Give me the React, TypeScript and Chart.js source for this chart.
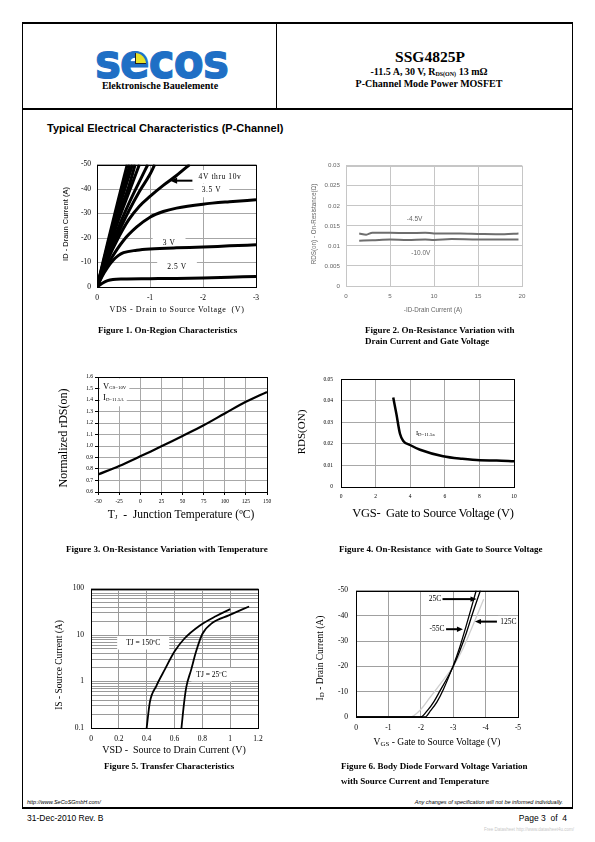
import React, { useEffect, useRef } from 'react';
import { Chart, registerables } from 'chart.js';

Chart.register(...registerables);

const SERIF = '"Liberation Serif", "Times New Roman", serif';
const SANS = '"Liberation Sans", Arial, sans-serif';

type Pt = [number, number];

// ---------------- Figure 1: On-region characteristics (VDS [V], ID [A]) ----------------
const f1VdsTicks = [0, -1, -2, -3];
const f1VdsLabels = ['0', '-1', '-2', '-3'];
const f1IdTicks = [0, -10, -20, -30, -40, -50];
const f1IdLabels = ['0', '-10', '-20', '-30', '-40', '-50'];
const f1Vgs10: Pt[] = [[0, 0], [-0.2, -18], [-0.4, -35.5], [-0.57, -50]];
const f1Vgs9: Pt[] = [[0, 0], [-0.2, -17], [-0.4, -33], [-0.62, -50]];
const f1Vgs8: Pt[] = [[0, 0], [-0.2, -16], [-0.4, -31], [-0.67, -50]];
const f1Vgs7: Pt[] = [[0, 0], [-0.2, -15], [-0.4, -29], [-0.6, -41], [-0.72, -50]];
const f1Vgs6: Pt[] = [[0, 0], [-0.2, -14], [-0.4, -27], [-0.6, -38.5], [-0.8, -50]];
const f1Vgs5: Pt[] = [[0, 0], [-0.2, -12.5], [-0.4, -24], [-0.6, -34], [-0.8, -43], [-0.96, -50]];
const f1Vgs45: Pt[] = [[0, 0], [-0.2, -11.5], [-0.4, -22], [-0.6, -31], [-0.8, -39], [-1.0, -46], [-1.09, -50]];
const f1Vgs4: Pt[] = [[0, 0], [-0.2, -11], [-0.4, -20], [-0.6, -27.5], [-0.8, -33], [-1.0, -37], [-1.25, -41.5], [-1.5, -45.5], [-1.75, -50]];
const f1Vgs35: Pt[] = [[0, 0], [-0.1, -5], [-0.25, -11], [-0.5, -19], [-0.75, -24.5], [-1.0, -28.5], [-1.25, -30.8], [-1.5, -32.2], [-2.0, -33.8], [-2.5, -34.8], [-3.0, -35.6]];
const f1Vgs3: Pt[] = [[0, 0], [-0.1, -4.5], [-0.2, -8], [-0.3, -10.8], [-0.4, -12.8], [-0.5, -14], [-0.75, -15], [-1.0, -15.5], [-1.5, -16], [-2.0, -16.3], [-2.5, -16.8], [-3.0, -17.2]];
const f1Vgs25: Pt[] = [[0, 0], [-0.1, -1.5], [-0.2, -2.6], [-0.3, -3.1], [-0.5, -3.3], [-1.0, -3.4], [-1.5, -3.5], [-2.0, -3.7], [-2.5, -4.0], [-3.0, -4.3]];

// ---------------- Figure 2: RDS(on) vs drain current ----------------
const f2IdTicks = [0, 5, 10, 15, 20];
const f2IdLabels = ['0', '5', '10', '15', '20'];
const f2RdsTicks = [0, 0.005, 0.01, 0.015, 0.02, 0.025, 0.03];
const f2RdsLabels = ['0', '0.005', '0.01', '0.015', '0.02', '0.025', '0.03'];
const f2Vgs45: Pt[] = [[1.5, 0.0131], [2.3, 0.0128], [3, 0.0133], [5, 0.0133], [7, 0.0132], [9, 0.0133], [10, 0.0131], [13, 0.0131], [15, 0.013], [18, 0.0129], [19.6, 0.0131]];
const f2Vgs10: Pt[] = [[1.5, 0.0113], [3, 0.0114], [5, 0.0116], [7, 0.0115], [9, 0.0116], [10, 0.0115], [12, 0.0117], [15, 0.0116], [18, 0.0116], [19.6, 0.0116]];

// ---------------- Figure 3: normalized RDS(on) vs temperature ----------------
const f3TempTicks = [-50, -25, 0, 25, 50, 75, 100, 125, 150];
const f3TempLabels = ['-50', '-25', '0', '25', '50', '75', '100', '125', '150'];
const f3NormTicks = [0.6, 0.7, 0.8, 0.9, 1.0, 1.1, 1.2, 1.3, 1.4, 1.5, 1.6];
const f3NormLabels = ['0.6', '0.7', '0.8', '0.9', '1.0', '1.1', '1.2', '1.3', '1.4', '1.5', '1.6'];
const f3Temp = [-50, -25, 0, 25, 50, 75, 100, 125, 150];
const f3Rds = [0.752, 0.826, 0.91, 0.997, 1.087, 1.18, 1.283, 1.385, 1.47];

// ---------------- Figure 4: RDS(on) vs VGS ----------------
const f4VgsTicks = [0, 2, 4, 6, 8, 10];
const f4VgsLabels = ['0', '2', '4', '6', '8', '10'];
const f4RdsTicks = [0, 0.01, 0.02, 0.03, 0.04, 0.05];
const f4RdsLabels = ['0', '0.01', '0.02', '0.03', '0.04', '0.05'];
const f4Vgs = [3.02, 3.2, 3.41, 3.6, 3.99, 4.57, 5.9, 7, 8.03, 9, 10];
const f4Rds = [0.0415, 0.034, 0.0247, 0.0214, 0.0195, 0.0173, 0.0143, 0.0131, 0.0124, 0.0123, 0.0119];

// ---------------- Figure 5: source current vs VSD (log) ----------------
const f5VsdTicks = [0, 0.2, 0.4, 0.6, 0.8, 1, 1.2];
const f5VsdLabels = ['0', '0.2', '0.4', '0.6', '0.8', '1', '1.2'];
const f5IsGrid = [0.1, 0.2, 0.3, 0.4, 0.5, 0.6, 0.7, 0.8, 0.9, 1, 2, 3, 4, 5, 6, 7, 8, 9, 10, 20, 30, 40, 50, 60, 70, 80, 90, 100];
const f5IsMajor = [0.1, 1, 10, 100];
const f5Vsd150 = [0.4, 0.423, 0.47, 0.53, 0.6, 0.67, 0.78, 0.9, 1.0];
const f5Is150 = [0.1, 0.36, 0.81, 1.8, 4.4, 8.3, 15.8, 25.6, 36];
const f5Vsd25 = [0.65, 0.668, 0.684, 0.72, 0.755, 0.8, 0.875, 0.99, 1.136];
const f5Is25 = [0.1, 0.33, 0.74, 1.8, 4.4, 10.5, 18.5, 26.5, 41];

// ---------------- Figure 6: ID vs VGS at temperatures ----------------
const f6VgsTicks = [0, -1, -2, -3, -4, -5];
const f6VgsLabels = ['0', '-1', '-2', '-3', '-4', '-5'];
const f6IdTicks = [0, -10, -20, -30, -40, -50];
const f6IdLabels = ['0', '-10', '-20', '-30', '-40', '-50'];
const f6TM55: Pt[] = [[0, 0], [-2.13, 0], [-2.3, -2.5], [-2.5, -6], [-2.7, -11], [-3.0, -20.3], [-3.2, -27.5], [-3.4, -36], [-3.6, -45], [-3.71, -50]];
const f6T25: Pt[] = [[0, 0], [-2.0, 0], [-2.2, -2.5], [-2.4, -6], [-2.6, -10.5], [-2.8, -15], [-3.0, -20], [-3.2, -26], [-3.4, -33], [-3.6, -41], [-3.84, -50]];
const f6T125: Pt[] = [[0, 0], [-1.67, 0], [-2.0, -3], [-2.3, -8], [-2.6, -13], [-3.0, -20], [-3.3, -27], [-3.6, -36], [-3.94, -46.5]];

// ---------------- helpers ----------------
const pxy = (pts: Pt[]) => pts.map(([x, y]) => ({ x, y }));
const zxy = (xs: number[], ys: number[]) => xs.map((x, i) => ({ x, y: ys[i] }));

type Geo = { left: number; top: number; width: number; height: number; yW: number; xH: number; padTop: number; padRight: number };
function geo(l: number, t: number, r: number, b: number, yW: number, xH: number): Geo {
  const padTop = 8;
  const padRight = 12;
  return { left: l - yW, top: t - padTop, width: yW + (r - l) + padRight, height: padTop + (b - t) + xH, yW, xH, padTop, padRight };
}

type AxisSpec = {
  min: number; max: number; ticks: number[]; labels: string[]; reverse?: boolean; log?: boolean;
  font: string; size: number; color?: string; pad: number; grid: string; tickLen?: number; tickColor?: string; fit: number;
};
function axis(a: AxisSpec, horizontal: boolean) {
  return {
    type: a.log ? 'logarithmic' : 'linear',
    min: a.min,
    max: a.max,
    reverse: !!a.reverse,
    afterBuildTicks: (s: any) => { s.ticks = a.ticks.map((v) => ({ value: v })); },
    afterFit: (s: any) => { if (horizontal) s.height = a.fit; else s.width = a.fit; },
    ticks: {
      autoSkip: false, maxRotation: 0, minRotation: 0, padding: a.pad, color: a.color || '#000',
      font: { family: a.font, size: a.size },
      callback: (_v: any, i: number) => a.labels[i],
    },
    grid: { color: a.grid, lineWidth: 1, drawTicks: !!a.tickLen, tickLength: a.tickLen || 0, tickColor: a.tickColor || a.grid },
    border: { display: false },
  };
}

function line(data: { x: number; y: number }[], color: string, width: number) {
  return { data, borderColor: color, borderWidth: width, pointRadius: 0, fill: false, cubicInterpolationMode: 'monotone' };
}

function boxPlugin(color: string) {
  return {
    id: 'box',
    afterDatasetsDraw(chart: any) {
      const { left, top, right, bottom } = chart.chartArea;
      const ctx = chart.ctx;
      ctx.save();
      ctx.strokeStyle = color;
      ctx.lineWidth = 1;
      ctx.strokeRect(Math.round(left) + 0.5, Math.round(top) + 0.5, Math.round(right) - Math.round(left), Math.round(bottom) - Math.round(top));
      ctx.restore();
    },
  };
}

type Seg = { t: string; size: number; dy?: number; ls?: number };
type Note = { x: number; y: number; segs: Seg[]; align?: 'left' | 'center'; bg?: boolean; padX?: number; padY?: number; color?: string };
type Arrow = { x1: number; y1: number; x2: number; y2: number; w: number; head: number; color?: string };

function notesPlugin(id: string, notes: Note[], arrows: Arrow[], family: string) {
  const setFont = (ctx: any, s: Seg) => {
    ctx.font = `${s.size}px ${family}`;
    ctx.letterSpacing = `${s.ls || 0}px`;
  };
  const geom = (chart: any, n: Note) => {
    const ctx = chart.ctx;
    let w = 0;
    for (const s of n.segs) { setFont(ctx, s); w += ctx.measureText(s.t).width; }
    const px = chart.scales.x.getPixelForValue(n.x);
    const py = chart.scales.y.getPixelForValue(n.y);
    const left = n.align === 'left' ? px : px - w / 2;
    const h = Math.max(...n.segs.map((s) => s.size));
    return { left, w, py, h };
  };
  return {
    id,
    beforeDatasetsDraw(chart: any) {
      const ctx = chart.ctx;
      ctx.save();
      for (const n of notes) {
        if (!n.bg) continue;
        const g = geom(chart, n);
        const px = n.padX ?? 3;
        const py = n.padY ?? 2;
        ctx.fillStyle = '#fff';
        ctx.fillRect(g.left - px, g.py - g.h / 2 - py, g.w + 2 * px, g.h + 2 * py);
      }
      ctx.letterSpacing = '0px';
      ctx.restore();
    },
    afterDatasetsDraw(chart: any) {
      const ctx = chart.ctx;
      const xs = chart.scales.x;
      const ys = chart.scales.y;
      ctx.save();
      for (const a of arrows) {
        const x1 = xs.getPixelForValue(a.x1), y1 = ys.getPixelForValue(a.y1);
        const x2 = xs.getPixelForValue(a.x2), y2 = ys.getPixelForValue(a.y2);
        const ang = Math.atan2(y2 - y1, x2 - x1);
        const c = Math.cos(ang), s = Math.sin(ang);
        ctx.strokeStyle = a.color || '#000';
        ctx.fillStyle = a.color || '#000';
        ctx.lineWidth = a.w;
        ctx.beginPath();
        ctx.moveTo(x1, y1);
        ctx.lineTo(x2 - c * a.head * 0.8, y2 - s * a.head * 0.8);
        ctx.stroke();
        const hw = a.head * 0.45;
        ctx.beginPath();
        ctx.moveTo(x2, y2);
        ctx.lineTo(x2 - a.head * c + hw * s, y2 - a.head * s - hw * c);
        ctx.lineTo(x2 - a.head * c - hw * s, y2 - a.head * s + hw * c);
        ctx.closePath();
        ctx.fill();
      }
      ctx.textBaseline = 'middle';
      ctx.textAlign = 'left';
      for (const n of notes) {
        const g = geom(chart, n);
        let x = g.left;
        ctx.fillStyle = n.color || '#000';
        for (const s of n.segs) {
          setFont(ctx, s);
          ctx.fillText(s.t, x, g.py + (s.dy || 0));
          x += ctx.measureText(s.t).width;
        }
      }
      ctx.letterSpacing = '0px';
      ctx.restore();
    },
  };
}

function cfg(g: Geo, datasets: any[], x: any, y: any, plugins: any[]) {
  return {
    type: 'line',
    data: { datasets },
    options: {
      responsive: false,
      animation: false,
      events: [],
      devicePixelRatio: 1,
      layout: { padding: { top: g.padTop, right: g.padRight, left: 0, bottom: 0 } },
      plugins: { legend: { display: false }, tooltip: { enabled: false }, title: { display: false } },
      scales: { x, y },
    },
    plugins,
  };
}

// ---------------- geometry (page pixels) ----------------
const G1 = geo(97, 162, 256, 287, 40, 20);
const G2 = geo(346, 164, 522, 286, 40, 18);
const G3 = geo(98, 377, 267, 492, 30, 18);
const G4 = geo(341, 376, 514, 487, 30, 18);
const G5 = geo(91, 585, 258, 728, 32, 18);
const G6 = geo(356, 586, 518, 717, 32, 18);

function fig1() {
  const ds = [f1Vgs10, f1Vgs9, f1Vgs8, f1Vgs7, f1Vgs6, f1Vgs5, f1Vgs45, f1Vgs4, f1Vgs35, f1Vgs3, f1Vgs25].map((p) => line(pxy(p), '#000', 3));
  const notes: Note[] = [
    { x: -2.32, y: -45, segs: [{ t: '4V thru 10v', size: 7.5, ls: 0.6 }], bg: true, padX: 6, padY: 3 },
    { x: -2.16, y: -39.4, segs: [{ t: '3.5 V', size: 7.5, ls: 0.6 }], bg: true, padX: 8, padY: 3 },
    { x: -1.36, y: -18, segs: [{ t: '3 V', size: 7.5, ls: 0.6 }], bg: true, padX: 10, padY: 2 },
    { x: -1.51, y: -8.2, segs: [{ t: '2.5 V', size: 7.5, ls: 0.6 }], bg: true, padX: 10, padY: 3 },
  ];
  const arrows: Arrow[] = [{ x1: -1.8, y1: -43.4, x2: -1.38, y2: -43.4, w: 2, head: 7 }];
  return cfg(
    G1, ds,
    axis({ min: -3, max: 0, reverse: true, ticks: f1VdsTicks, labels: f1VdsLabels, font: SERIF, size: 7.5, pad: 6.5, grid: '#a6a6a6', fit: G1.xH }, true),
    axis({ min: -50, max: 0, reverse: true, ticks: f1IdTicks, labels: f1IdLabels, font: SERIF, size: 7.5, pad: 6, grid: '#a6a6a6', fit: G1.yW }, false),
    [boxPlugin('#000'), notesPlugin('n1', notes, arrows, SERIF)],
  );
}

function fig2() {
  const ds = [line(pxy(f2Vgs45), '#6e6e6e', 2), line(pxy(f2Vgs10), '#6e6e6e', 2)];
  const notes: Note[] = [
    { x: 7.8, y: 0.0166, segs: [{ t: '-4.5V', size: 6.5 }], color: '#666' },
    { x: 8.5, y: 0.0083, segs: [{ t: '-10.0V', size: 6.5 }], color: '#666' },
  ];
  return cfg(
    G2, ds,
    axis({ min: 0, max: 20, ticks: f2IdTicks, labels: f2IdLabels, font: SANS, size: 6.2, color: '#666', pad: 7, grid: '#c6c6c6', fit: G2.xH }, true),
    axis({ min: 0, max: 0.03, ticks: f2RdsTicks, labels: f2RdsLabels, font: SANS, size: 6.2, color: '#666', pad: 6, grid: '#c6c6c6', fit: G2.yW }, false),
    [boxPlugin('#c6c6c6'), notesPlugin('n2', notes, [], SANS)],
  );
}

function fig3() {
  const ds = [{ ...line(zxy(f3Temp, f3Rds), '#000', 2.2), cubicInterpolationMode: 'default', tension: 0.35 }];
  const notes: Note[] = [
    { x: -44, y: 1.516, align: 'left', segs: [{ t: 'V', size: 8.5 }, { t: 'GS=10V', size: 4.8, dy: 1.5 }], bg: true, padX: 3, padY: 4 },
    { x: -44, y: 1.417, align: 'left', segs: [{ t: 'I', size: 8.5 }, { t: 'D=11.5A', size: 4.8, dy: 1.5 }], bg: true, padX: 3, padY: 4 },
  ];
  return cfg(
    G3, ds,
    axis({ min: -50, max: 150, ticks: f3TempTicks, labels: f3TempLabels, font: SERIF, size: 5.5, pad: 3.5, grid: '#a8a8a8', tickLen: 3, tickColor: '#000', fit: G3.xH }, true),
    axis({ min: 0.6, max: 1.6, ticks: f3NormTicks, labels: f3NormLabels, font: SERIF, size: 5.5, pad: 2, grid: '#a8a8a8', tickLen: 3, tickColor: '#000', fit: G3.yW }, false),
    [boxPlugin('#000'), notesPlugin('n3', notes, [], SERIF)],
  );
}

function fig4() {
  const ds = [line(zxy(f4Vgs, f4Rds), '#000', 2.5)];
  const notes: Note[] = [
    { x: 4.33, y: 0.0247, align: 'left', segs: [{ t: 'I', size: 6.5 }, { t: 'D=11.5a', size: 4.8, dy: 0.5 }] },
  ];
  return cfg(
    G4, ds,
    axis({ min: 0, max: 10, ticks: f4VgsTicks, labels: f4VgsLabels, font: SERIF, size: 5.5, pad: 6.5, grid: '#a8a8a8', fit: G4.xH }, true),
    axis({ min: 0, max: 0.05, ticks: f4RdsTicks, labels: f4RdsLabels, font: SERIF, size: 5.5, pad: 8, grid: '#a8a8a8', fit: G4.yW }, false),
    [boxPlugin('#000'), notesPlugin('n4', notes, [], SERIF)],
  );
}

function fig5() {
  const ds = [line(zxy(f5Vsd150, f5Is150), '#000', 1.8), line(zxy(f5Vsd25, f5Is25), '#000', 1.8)];
  const notes: Note[] = [
    { x: 0.375, y: 6.8, segs: [{ t: 'TJ = 150ºC', size: 7.5 }], bg: true, padX: 9, padY: 3 },
    { x: 0.866, y: 1.4, segs: [{ t: 'TJ = 25ºC', size: 7.5 }], bg: true, padX: 5, padY: 3 },
  ];
  const isLabels = f5IsGrid.map((v) => (f5IsMajor.includes(v) ? String(v) : ''));
  return cfg(
    G5, ds,
    axis({ min: 0, max: 1.2, ticks: f5VsdTicks, labels: f5VsdLabels, font: SERIF, size: 7.5, pad: 7, grid: '#9a9a9a', fit: G5.xH }, true),
    axis({ min: 0.1, max: 100, log: true, ticks: f5IsGrid, labels: isLabels, font: SERIF, size: 7.5, pad: 7, grid: '#9a9a9a', fit: G5.yW }, false),
    [boxPlugin('#000'), notesPlugin('n5', notes, [], SERIF)],
  );
}

function fig6() {
  const ds = [line(pxy(f6TM55), '#000', 1.3), line(pxy(f6T25), '#000', 1.3), line(pxy(f6T125), '#cfcfcf', 1.3)];
  const notes: Note[] = [
    { x: -2.44, y: -46.6, segs: [{ t: '25C', size: 7.5 }], bg: true, padX: 2, padY: 2 },
    { x: -2.5, y: -34.7, segs: [{ t: '-55C', size: 7.5 }], bg: true, padX: 2, padY: 2 },
    { x: -4.7, y: -37.7, segs: [{ t: '125C', size: 7.5 }], bg: true, padX: 2, padY: 2 },
  ];
  const arrows: Arrow[] = [
    { x1: -2.67, y1: -46.6, x2: -3.72, y2: -46.6, w: 2, head: 6 },
    { x1: -2.78, y1: -34.7, x2: -3.3, y2: -34.7, w: 2, head: 6 },
    { x1: -4.35, y1: -37.7, x2: -3.67, y2: -37.7, w: 2, head: 6 },
  ];
  return cfg(
    G6, ds,
    axis({ min: -5, max: 0, reverse: true, ticks: f6VgsTicks, labels: f6VgsLabels, font: SERIF, size: 7.5, pad: 6.8, grid: '#a0a0a0', fit: G6.xH }, true),
    axis({ min: -50, max: 0, reverse: true, ticks: f6IdTicks, labels: f6IdLabels, font: SERIF, size: 7.5, pad: 8, grid: '#a0a0a0', fit: G6.yW }, false),
    [boxPlugin('#000'), notesPlugin('n6', notes, arrows, SERIF)],
  );
}

function ChartBox({ g, make }: { g: Geo; make: () => any }) {
  const ref = useRef<HTMLCanvasElement>(null);
  useEffect(() => {
    const chart = new Chart(ref.current as HTMLCanvasElement, make());
    return () => chart.destroy();
  }, []);
  return (
    <canvas
      ref={ref}
      width={g.width}
      height={g.height}
      style={{ position: 'absolute', left: g.left, top: g.top, width: g.width, height: g.height }}
    />
  );
}

type TP = {
  x: number; y: number; a?: 'l' | 'c' | 'r'; rot?: boolean; f: string; s: number; b?: boolean; i?: boolean;
  c?: string; ls?: number; children: React.ReactNode;
};
function T({ x, y, a = 'l', rot, f, s, b, i, c, ls, children }: TP) {
  const tx = rot
    ? 'translate(-50%,-50%) rotate(-90deg)'
    : a === 'c' ? 'translate(-50%,-50%)' : a === 'r' ? 'translate(-100%,-50%)' : 'translateY(-50%)';
  return (
    <div
      style={{
        position: 'absolute', left: x, top: y, transform: tx, fontFamily: f, fontSize: s,
        fontWeight: b ? 'bold' : 'normal', fontStyle: i ? 'italic' : 'normal', color: c || '#000',
        letterSpacing: ls || 0, whiteSpace: 'pre', lineHeight: 1,
      }}
    >
      {children}
    </div>
  );
}

const Sub = ({ s, children }: { s: number; children: React.ReactNode }) => (
  <span style={{ fontSize: s, verticalAlign: '-0.2em' }}>{children}</span>
);

export default function App() {
  return (
    <div style={{ position: 'absolute', left: 0, top: 0, width: 595, height: 842, background: '#fff', overflow: 'hidden' }}>
      {/* page frame */}
      <div style={{ position: 'absolute', left: 22, top: 22, width: 551, height: 787, boxSizing: 'border-box', borderLeft: '1px solid #000', borderRight: '1px solid #000', borderTop: '2px solid #000', borderBottom: '2px solid #000' }} />
      <div style={{ position: 'absolute', left: 22, top: 108, width: 551, height: 2, background: '#000' }} />
      <div style={{ position: 'absolute', left: 276, top: 22, width: 1, height: 87, background: '#000' }} />

      {/* logo */}
      <div style={{ position: 'absolute', left: 95, top: 37, fontFamily: '"DejaVu Sans", sans-serif', fontWeight: 'bold', fontSize: 48, lineHeight: '48px', color: '#1f6fc5', transform: 'scaleX(0.91)', transformOrigin: 'left top', letterSpacing: -1, WebkitTextStroke: '1.2px #1f6fc5' }}>secos</div>
      <div style={{ position: 'absolute', left: 135, top: 53, width: 10, height: 10, background: '#e6e22a', borderTopRightRadius: '100%', borderLeft: '1px solid #222', borderBottom: '1px solid #222' }} />
      <T x={160} y={86} a="c" f={SERIF} s={10} b>Elektronische Bauelemente</T>

      <T x={430} y={57} a="c" f={SERIF} s={15.5} b>SSG4825P</T>
      <T x={429} y={72} a="c" f={SERIF} s={10} b>-11.5 A, 30 V, R<Sub s={6}>DS(ON)</Sub> 13 mΩ</T>
      <T x={429} y={84} a="c" f={SERIF} s={10} b>P-Channel Mode Power MOSFET</T>

      <T x={47} y={128} f={SANS} s={11} b>Typical Electrical Characteristics (P-Channel)</T>

      {/* charts */}
      <ChartBox g={G1} make={fig1} />
      <ChartBox g={G2} make={fig2} />
      <ChartBox g={G3} make={fig3} />
      <ChartBox g={G4} make={fig4} />
      <ChartBox g={G5} make={fig5} />
      <ChartBox g={G6} make={fig6} />

      {/* figure 1 */}
      <T x={66} y={224} rot f={SANS} s={7.5}>ID - Draun Current (A)</T>
      <T x={177} y={309.5} a="c" f={SERIF} s={8} ls={0.6}>VDS - Drain to Source Voltage  (V)</T>
      <T x={98} y={329.5} f={SERIF} s={9} b>Figure 1. On-Region Characteristics</T>

      {/* figure 2 */}
      <T x={314} y={224} rot f={SANS} s={6.3} c="#666">RDS(on) - On-Resistance(Ω)</T>
      <T x={433} y={310} a="c" f={SANS} s={6.3} c="#666">-ID-Drain Current (A)</T>
      <T x={365} y={329.5} f={SERIF} s={9} b>Figure 2. On-Resistance Variation with</T>
      <T x={365} y={340.5} f={SERIF} s={9} b>Drain Current and Gate Voltage</T>

      {/* figure 3 */}
      <T x={63} y={438} rot f={SERIF} s={12}>Normalized rDS(on)</T>
      <T x={181} y={515} a="c" f={SERIF} s={11.5}>T<Sub s={7}>J</Sub>  -  Junction Temperature (ºC)</T>
      <T x={66} y={548.5} f={SERIF} s={9} b>Figure 3. On-Resistance Variation with Temperature</T>

      {/* figure 4 */}
      <T x={301} y={432} rot f={SERIF} s={11}>RDS(ON)</T>
      <T x={433} y={513} a="c" f={SERIF} s={12.5} ls={-0.3}>VGS-  Gate to Source Voltage (V)</T>
      <T x={339} y={548.5} f={SERIF} s={9} b>Figure 4. On-Resistance  with Gate to Source Voltage</T>

      {/* figure 5 */}
      <T x={60} y={665} rot f={SERIF} s={9.5}>IS - Source Current (A)</T>
      <T x={174} y={749.5} a="c" f={SERIF} s={10}>VSD -  Source to Drain Current (V)</T>
      <T x={104} y={765.5} f={SERIF} s={9} b>Figure 5. Transfer Characteristics</T>

      {/* figure 6 */}
      <T x={321} y={658} rot f={SERIF} s={9.5}>I<Sub s={7}>D</Sub> - Drain Current (A)</T>
      <T x={437} y={742.5} a="c" f={SERIF} s={9.5}>V<Sub s={7}>GS</Sub> - Gate to Source Voltage (V)</T>
      <T x={341} y={765.5} f={SERIF} s={9} b>Figure 6. Body Diode Forward Voltage Variation</T>
      <T x={341} y={780.5} f={SERIF} s={9} b>with Source Current and Temperature</T>

      {/* footer */}
      <T x={27} y={803} f={SANS} s={5.5} i>http://www.SeCoSGmbH.com/</T>
      <T x={563} y={803} a="r" f={SANS} s={5.5} i>Any changes of specification will not be informed individually.</T>
      <T x={27} y={818} f={SANS} s={8.5}>31-Dec-2010 Rev. B</T>
      <T x={567} y={818} a="r" f={SANS} s={8.5}>Page 3  of  4</T>
      <T x={574} y={830} a="r" f={SANS} s={4.5} c="#c8c8c8">Free Datasheet http://www.datasheet4u.com/</T>
    </div>
  );
}
